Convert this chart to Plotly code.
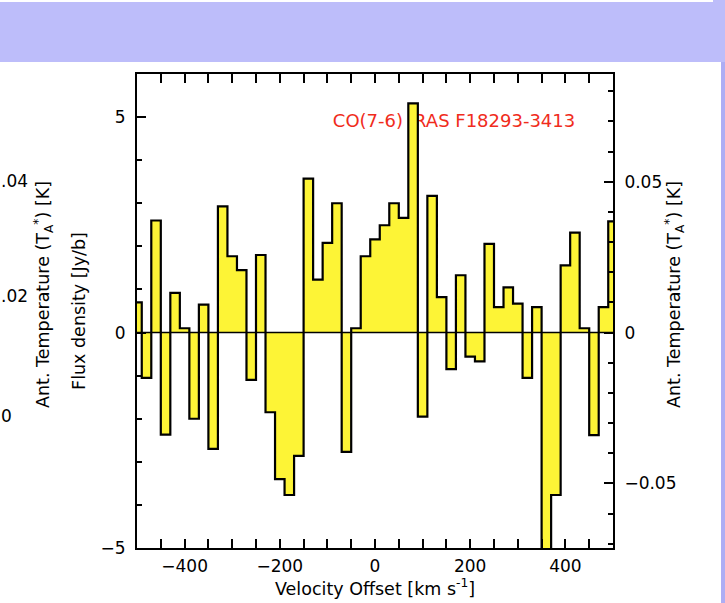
import plotly.graph_objects as go

# Spectrum: bin centres (km/s) and flux density per 20 km/s channel (Jy/beam)
velocity = list(range(-500, 501, 20))
flux = [
    0.70, -1.05, 2.60, -2.37, 0.92, 0.10, -2.00, 0.65, -2.70, 2.93,
    1.77, 1.45, -1.10, 1.80, -1.85, -3.40, -3.77, -2.86, 3.57, 1.23,
    2.08, 3.00, -2.77, 0.10, 1.77, 2.16, 2.49, 3.00, 2.66, 5.32,
    -1.95, 3.17, 0.82, -0.85, 1.33, -0.56, -0.67, 2.06, 0.59, 1.05,
    0.67, -1.05, 0.59, -5.60, -3.77, 1.56, 2.32, 0.10, -2.38, 0.59,
    2.58,
]
JY_PER_K = 70.0
temperature = [f / JY_PER_K for f in flux]

line_label = "CO(7-6) IRAS F18293-3413"
label_pos = (166, 4.88)

x_range = [-500, 500]
y_range = [-5, 6]
x_ticks = [-400, -200, 0, 200, 400]
y_ticks = [-5, 0, 5]
t_ticks = [-0.05, 0, 0.05]

# tick labels of the neighbouring panel, which is cropped at the left edge
side_ticks = [".04", ".02", "0"]

FONT = "DejaVu Sans"
W, H = 725, 603
L, R, T, B = 137, 613, 74, 548


def px_x(px):
    return (px - L) / (R - L)


def px_y(py):
    return (B - py) / (B - T)


fig = go.Figure()

# source label sits underneath the spectrum
fig.add_trace(go.Scatter(
    x=[label_pos[0]], y=[label_pos[1]], mode="text", text=[line_label],
    textfont=dict(family=FONT, size=18, color="#F02C1C"),
    hoverinfo="skip", showlegend=False,
))

fig.add_trace(go.Scatter(
    x=velocity, y=flux, mode="lines", line=dict(shape="hvh", color="black", width=2.2),
    fill="tozeroy", fillcolor="#FDF436", showlegend=False,
))

fig.add_trace(go.Scatter(
    x=velocity, y=temperature, yaxis="y2", mode="lines",
    line=dict(width=0, color="rgba(0,0,0,0)"), hoverinfo="skip", showlegend=False,
))

tickfont = dict(family=FONT, size=17, color="black")
title_font = dict(family=FONT, size=17.5, color="black")
temp_title = "Ant. Temperature (T<sub>A</sub><sup>*</sup>) [K]"

fig.update_layout(
    width=W, height=H,
    margin=dict(l=L, r=W - R, t=T, b=H - B),
    paper_bgcolor="white", plot_bgcolor="white",
    font=dict(family=FONT, color="black"),
    xaxis=dict(
        range=x_range, tickvals=x_ticks, ticks="inside", ticklen=9, tickwidth=1.5,
        tickcolor="black", showline=True, linecolor="black", linewidth=2,
        mirror="allticks", showgrid=False, zeroline=False, tickfont=tickfont,
        minor=dict(dtick=50, tick0=0, ticks="inside", ticklen=5, tickwidth=1.5,
                   tickcolor="black", showgrid=False),
        title=dict(text="Velocity Offset [km s<sup>-1</sup>]", font=title_font, standoff=1),
        ticklabelstandoff=2,
    ),
    yaxis=dict(
        range=y_range, tickvals=y_ticks, ticks="inside", ticklen=9, tickwidth=1.5,
        tickcolor="black", showline=True, linecolor="black", linewidth=2,
        showgrid=False, zeroline=False, tickfont=tickfont,
        minor=dict(dtick=1, tick0=0, ticks="inside", ticklen=5, tickwidth=1.5,
                   tickcolor="black", showgrid=False),
        title=dict(text="Flux density [Jy/b]", font=title_font, standoff=10),
        ticklabelstandoff=6,
    ),
    yaxis2=dict(
        overlaying="y", side="right",
        range=[y_range[0] / JY_PER_K, y_range[1] / JY_PER_K],
        tickvals=t_ticks, ticks="inside", ticklen=9, tickwidth=1.5, tickcolor="black",
        showline=True, linecolor="black", linewidth=2, showgrid=False, zeroline=False,
        tickfont=tickfont,
        minor=dict(dtick=0.01, tick0=0, ticks="inside", ticklen=5, tickwidth=1.5,
                   tickcolor="black", showgrid=False),
        ticklabelstandoff=6,
    ),
    shapes=[
        # slide header band and right border
        dict(type="rect", xref="paper", yref="paper", x0=px_x(0), x1=px_x(W),
             y0=px_y(62), y1=px_y(2), fillcolor="#BDBDFA", line=dict(width=0), layer="below"),
        dict(type="rect", xref="paper", yref="paper", x0=px_x(713), x1=px_x(W),
             y0=px_y(2), y1=px_y(0), fillcolor="#BDBDFA", line=dict(width=0), layer="below"),
        dict(type="rect", xref="paper", yref="paper", x0=px_x(721), x1=px_x(W),
             y0=px_y(H), y1=px_y(62), fillcolor="#ADADF4", line=dict(width=0), layer="below"),
        # zero level
        dict(type="line", xref="paper", yref="y", x0=0, x1=1, y0=0, y1=0,
             line=dict(color="black", width=1.5), layer="above"),
    ],
)

annotations = []
# right-hand temperature axis title
annotations.append(dict(
    text=temp_title, xref="paper", yref="paper", x=px_x(674), y=px_y(295),
    xanchor="center", yanchor="middle", textangle=-90, showarrow=False, font=title_font,
))
# neighbouring panel: its tick labels and temperature axis title
for txt, py in zip(side_ticks, [181, 296, 416]):
    annotations.append(dict(
        text=txt, xref="paper", yref="paper", x=px_x(-1), y=px_y(py),
        xanchor="left", yanchor="middle", showarrow=False, font=tickfont,
    ))
annotations.append(dict(
    text=temp_title, xref="paper", yref="paper", x=px_x(43), y=px_y(295),
    xanchor="center", yanchor="middle", textangle=-90, showarrow=False, font=title_font,
))
fig.update_layout(annotations=annotations)

fig.write_html("out.html")
